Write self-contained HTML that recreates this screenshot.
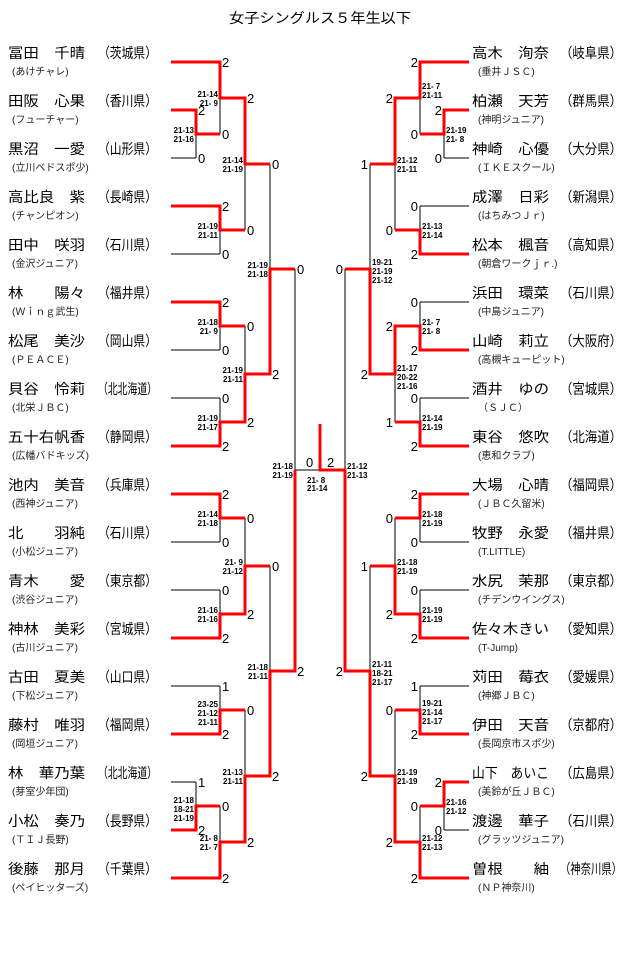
<!DOCTYPE html>
<html><head><meta charset="utf-8"><style>
html,body{margin:0;padding:0;background:#fff;}
svg{display:block;}
.n{font-family:"Liberation Sans","Noto Sans CJK JP",sans-serif;font-size:14px;fill:#000;}
.p{font-family:"Liberation Sans","Noto Sans CJK JP",sans-serif;font-size:14px;fill:#000;}
.c{font-family:"Liberation Sans","Noto Sans CJK JP",sans-serif;font-size:10px;fill:#222;}
.d{font-family:"Liberation Sans",sans-serif;font-size:13px;fill:#000;}
.g{font-family:"Liberation Sans",sans-serif;font-size:8px;fill:#000;font-weight:bold;}
.b{stroke:#000;stroke-width:1;fill:none;}
.r{stroke:#f00;stroke-width:3;fill:none;}
</style></head><body>
<svg width="640" height="957" viewBox="0 0 640 957" xmlns="http://www.w3.org/2000/svg">
<text x="320" y="23" text-anchor="middle" class="n" textLength="182" lengthAdjust="spacingAndGlyphs">女子シングルス５年生以下</text>

<path class="b" d="
M171,62H220M171,110H196M171,158H196M171,206H220M171,254H220M171,302H220M171,350H220M171,398H220M171,446H220
M171,494H220M171,542H220M171,590H220M171,638H220M171,686H220M171,734H220M171,782H196M171,830H196M171,878H220
M196,110V158M196,782V830M196,134H220M196,806H220
M220,62V134M220,206V254M220,302V350M220,398V446M220,494V542M220,590V638M220,686V734M220,806V878
M220,98H245M220,230H245M220,326H245M220,422H245M220,518H245M220,614H245M220,710H245M220,842H245
M245,98V230M245,326V422M245,518V614M245,710V842
M245,164H270M245,374H270M245,566H270M245,776H270
M270,164V374M270,566V776M270,269H295M270,671H295
M295,269V671M295,470H345
M469,62H420M469,110H444M469,158H444M469,206H420M469,254H420M469,302H420M469,350H420M469,398H420M469,446H420
M469,494H420M469,542H420M469,590H420M469,638H420M469,686H420M469,734H420M469,782H444M469,830H444M469,878H420
M444,110V158M444,782V830M444,134H420M444,806H420
M420,62V134M420,206V254M420,302V350M420,398V446M420,494V542M420,590V638M420,686V734M420,806V878
M420,98H395M420,230H395M420,326H395M420,422H395M420,518H395M420,614H395M420,710H395M420,842H395
M395,98V230M395,326V422M395,518V614M395,710V842
M395,164H370M395,374H370M395,566H370M395,776H370
M370,164V374M370,566V776M370,269H345M370,671H345
M345,269V671"/>

<path class="r" d="
M171,62H220V98H245V164H270
M171,110H196V134H220
M171,206H220V230H245
M171,302H220V326H245
M171,446H220V422H245V374H270V269H295
M171,494H220V518H245
M171,638H220V614H245V566H270
M171,734H220V710H245
M171,830H196V806H220
M171,878H220V842H245V776H270V671H295V470
M469,62H420V98H395V164H370
M469,110H444V134H420
M469,254H420V230H395
M469,350H420V326H395V374H370V269H345
M469,446H420V422H395
M469,494H420V518H395
M469,638H420V614H395V566H370
M469,734H420V710H395
M469,782H444V806H420
M469,878H420V842H395V776H370V671H345V470H320V424"/>

<g class="d">
<text x="222" y="67">2</text><text x="222" y="139">0</text><text x="222" y="211">2</text><text x="222" y="259">0</text>
<text x="222" y="307">2</text><text x="222" y="355">0</text><text x="222" y="403">0</text><text x="222" y="451">2</text>
<text x="222" y="499">2</text><text x="222" y="547">0</text><text x="222" y="595">0</text><text x="222" y="643">2</text>
<text x="222" y="691">1</text><text x="222" y="739">2</text><text x="222" y="811">0</text><text x="222" y="883">2</text>
<text x="198" y="115">2</text><text x="198" y="163">0</text><text x="198" y="787">1</text><text x="198" y="835">2</text>
<text x="247" y="103">2</text><text x="247" y="235">0</text><text x="247" y="331">0</text><text x="247" y="427">2</text>
<text x="247" y="523">0</text><text x="247" y="619">2</text><text x="247" y="715">0</text><text x="247" y="847">2</text>
<text x="272" y="169">0</text><text x="272" y="379">2</text><text x="272" y="571">0</text><text x="272" y="781">2</text>
<text x="297" y="274">0</text><text x="297" y="676">2</text>
<text x="306" y="467">0</text><text x="327" y="467">2</text>
</g>
<g class="d" text-anchor="end">
<text x="418" y="67">2</text><text x="418" y="139">0</text><text x="418" y="211">0</text><text x="418" y="259">2</text>
<text x="418" y="307">0</text><text x="418" y="355">2</text><text x="418" y="403">0</text><text x="418" y="451">2</text>
<text x="418" y="499">2</text><text x="418" y="547">0</text><text x="418" y="595">0</text><text x="418" y="643">2</text>
<text x="418" y="691">1</text><text x="418" y="739">2</text><text x="418" y="811">0</text><text x="418" y="883">2</text>
<text x="442" y="115">2</text><text x="442" y="163">0</text><text x="442" y="787">2</text><text x="442" y="835">0</text>
<text x="393" y="103">2</text><text x="393" y="235">0</text><text x="393" y="331">2</text><text x="393" y="427">1</text>
<text x="393" y="523">0</text><text x="393" y="619">2</text><text x="393" y="715">0</text><text x="393" y="847">2</text>
<text x="368" y="169">1</text><text x="368" y="379">2</text><text x="368" y="571">1</text><text x="368" y="781">2</text>
<text x="343" y="274">0</text><text x="343" y="676">2</text>
</g>

<g class="g" text-anchor="end">
<text x="218" y="97">21-14</text><text x="218" y="106">21- 9</text>
<text x="194" y="133">21-13</text><text x="194" y="142">21-16</text>
<text x="243" y="163">21-14</text><text x="243" y="172">21-19</text>
<text x="218" y="229">21-19</text><text x="218" y="238">21-11</text>
<text x="268" y="268">21-19</text><text x="268" y="277">21-18</text>
<text x="218" y="325">21-18</text><text x="218" y="334">21- 9</text>
<text x="243" y="373">21-19</text><text x="243" y="382">21-11</text>
<text x="218" y="421">21-19</text><text x="218" y="430">21-17</text>
<text x="293" y="469">21-18</text><text x="293" y="478">21-19</text>
<text x="218" y="517">21-14</text><text x="218" y="526">21-18</text>
<text x="243" y="565">21- 9</text><text x="243" y="574">21-12</text>
<text x="218" y="613">21-16</text><text x="218" y="622">21-16</text>
<text x="268" y="670">21-18</text><text x="268" y="679">21-11</text>
<text x="218" y="707">23-25</text><text x="218" y="716">21-12</text><text x="218" y="725">21-11</text>
<text x="243" y="775">21-13</text><text x="243" y="784">21-11</text>
<text x="194" y="803">21-18</text><text x="194" y="812">18-21</text><text x="194" y="821">21-19</text>
<text x="218" y="841">21- 8</text><text x="218" y="850">21- 7</text>
</g>
<g class="g">
<text x="307" y="483">21- 8</text><text x="307" y="491">21-14</text>
<text x="422" y="89">21- 7</text><text x="422" y="98">21-11</text>
<text x="446" y="133">21-19</text><text x="446" y="142">21- 8</text>
<text x="397" y="163">21-12</text><text x="397" y="172">21-11</text>
<text x="422" y="229">21-13</text><text x="422" y="238">21-14</text>
<text x="372" y="265">19-21</text><text x="372" y="274">21-19</text><text x="372" y="283">21-12</text>
<text x="422" y="325">21- 7</text><text x="422" y="334">21- 8</text>
<text x="397" y="371">21-17</text><text x="397" y="380">20-22</text><text x="397" y="389">21-16</text>
<text x="422" y="421">21-14</text><text x="422" y="430">21-19</text>
<text x="347" y="469">21-12</text><text x="347" y="478">21-13</text>
<text x="422" y="517">21-18</text><text x="422" y="526">21-19</text>
<text x="397" y="565">21-18</text><text x="397" y="574">21-19</text>
<text x="422" y="613">21-19</text><text x="422" y="622">21-19</text>
<text x="372" y="667">21-11</text><text x="372" y="676">18-21</text><text x="372" y="685">21-17</text>
<text x="422" y="706">19-21</text><text x="422" y="715">21-14</text><text x="422" y="724">21-17</text>
<text x="397" y="775">21-19</text><text x="397" y="784">21-19</text>
<text x="446" y="805">21-16</text><text x="446" y="814">21-12</text>
<text x="422" y="841">21-12</text><text x="422" y="850">21-13</text>
</g>

<g class="n">
<text x="8" y="58" textLength="77" lengthAdjust="spacingAndGlyphs">冨田　千晴</text>
<text x="8" y="106" textLength="77" lengthAdjust="spacingAndGlyphs">田阪　心果</text>
<text x="8" y="154" textLength="77" lengthAdjust="spacingAndGlyphs">黒沼　一愛</text>
<text x="8" y="202" textLength="77" lengthAdjust="spacingAndGlyphs">高比良　紫</text>
<text x="8" y="250" textLength="77" lengthAdjust="spacingAndGlyphs">田中　咲羽</text>
<text x="8" y="298" textLength="77" lengthAdjust="spacingAndGlyphs">林　　陽々</text>
<text x="8" y="346" textLength="77" lengthAdjust="spacingAndGlyphs">松尾　美沙</text>
<text x="8" y="394" textLength="77" lengthAdjust="spacingAndGlyphs">貝谷　怜莉</text>
<text x="8" y="442" textLength="77" lengthAdjust="spacingAndGlyphs">五十右帆香</text>
<text x="8" y="490" textLength="77" lengthAdjust="spacingAndGlyphs">池内　美音</text>
<text x="8" y="538" textLength="77" lengthAdjust="spacingAndGlyphs">北　　羽純</text>
<text x="8" y="586" textLength="77" lengthAdjust="spacingAndGlyphs">青木　　愛</text>
<text x="8" y="634" textLength="77" lengthAdjust="spacingAndGlyphs">神林　美彩</text>
<text x="8" y="682" textLength="77" lengthAdjust="spacingAndGlyphs">古田　夏美</text>
<text x="8" y="730" textLength="77" lengthAdjust="spacingAndGlyphs">藤村　唯羽</text>
<text x="8" y="778" textLength="77" lengthAdjust="spacingAndGlyphs">林　華乃葉</text>
<text x="8" y="826" textLength="77" lengthAdjust="spacingAndGlyphs">小松　奏乃</text>
<text x="8" y="874" textLength="77" lengthAdjust="spacingAndGlyphs">後藤　那月</text>
</g>
<g class="p">
<text x="98" y="58" textLength="59" lengthAdjust="spacingAndGlyphs">（茨城県）</text>
<text x="98" y="106" textLength="59" lengthAdjust="spacingAndGlyphs">（香川県）</text>
<text x="98" y="154" textLength="59" lengthAdjust="spacingAndGlyphs">（山形県）</text>
<text x="98" y="202" textLength="59" lengthAdjust="spacingAndGlyphs">（長崎県）</text>
<text x="98" y="250" textLength="59" lengthAdjust="spacingAndGlyphs">（石川県）</text>
<text x="98" y="298" textLength="59" lengthAdjust="spacingAndGlyphs">（福井県）</text>
<text x="98" y="346" textLength="59" lengthAdjust="spacingAndGlyphs">（岡山県）</text>
<text x="98" y="394" textLength="59" lengthAdjust="spacingAndGlyphs">（北北海道）</text>
<text x="98" y="442" textLength="59" lengthAdjust="spacingAndGlyphs">（静岡県）</text>
<text x="98" y="490" textLength="59" lengthAdjust="spacingAndGlyphs">（兵庫県）</text>
<text x="98" y="538" textLength="59" lengthAdjust="spacingAndGlyphs">（石川県）</text>
<text x="98" y="586" textLength="59" lengthAdjust="spacingAndGlyphs">（東京都）</text>
<text x="98" y="634" textLength="59" lengthAdjust="spacingAndGlyphs">（宮城県）</text>
<text x="98" y="682" textLength="59" lengthAdjust="spacingAndGlyphs">（山口県）</text>
<text x="98" y="730" textLength="59" lengthAdjust="spacingAndGlyphs">（福岡県）</text>
<text x="98" y="778" textLength="59" lengthAdjust="spacingAndGlyphs">（北北海道）</text>
<text x="98" y="826" textLength="59" lengthAdjust="spacingAndGlyphs">（長野県）</text>
<text x="98" y="874" textLength="59" lengthAdjust="spacingAndGlyphs">（千葉県）</text>
</g>
<g class="c">
<text x="12" y="75">(あけチャレ)</text><text x="12" y="123">(フューチャー)</text><text x="12" y="171">(立川ベドスポ少)</text>
<text x="12" y="219">(チャンピオン)</text><text x="12" y="267">(金沢ジュニア)</text><text x="12" y="315">(Ｗｉｎｇ武生)</text>
<text x="12" y="363">(ＰＥＡＣＥ)</text><text x="12" y="411">(北栄ＪＢＣ)</text><text x="12" y="459">(広幡バドキッズ)</text>
<text x="12" y="507">(西神ジュニア)</text><text x="12" y="555">(小松ジュニア)</text><text x="12" y="603">(渋谷ジュニア)</text>
<text x="12" y="651">(古川ジュニア)</text><text x="12" y="699">(下松ジュニア)</text><text x="12" y="747">(岡垣ジュニア)</text>
<text x="12" y="795">(芽室少年団)</text><text x="12" y="843">(ＴＩＪ長野)</text><text x="12" y="891">(ペイヒッターズ)</text>
</g>

<g class="n">
<text x="472" y="58" textLength="77" lengthAdjust="spacingAndGlyphs">高木　洵奈</text>
<text x="472" y="106" textLength="77" lengthAdjust="spacingAndGlyphs">柏瀬　天芳</text>
<text x="472" y="154" textLength="77" lengthAdjust="spacingAndGlyphs">神崎　心優</text>
<text x="472" y="202" textLength="77" lengthAdjust="spacingAndGlyphs">成澤　日彩</text>
<text x="472" y="250" textLength="77" lengthAdjust="spacingAndGlyphs">松本　楓音</text>
<text x="472" y="298" textLength="77" lengthAdjust="spacingAndGlyphs">浜田　環菜</text>
<text x="472" y="346" textLength="77" lengthAdjust="spacingAndGlyphs">山崎　莉立</text>
<text x="472" y="394" textLength="77" lengthAdjust="spacingAndGlyphs">酒井　ゆの</text>
<text x="472" y="442" textLength="77" lengthAdjust="spacingAndGlyphs">東谷　悠吹</text>
<text x="472" y="490" textLength="77" lengthAdjust="spacingAndGlyphs">大場　心晴</text>
<text x="472" y="538" textLength="77" lengthAdjust="spacingAndGlyphs">牧野　永愛</text>
<text x="472" y="586" textLength="77" lengthAdjust="spacingAndGlyphs">水尻　茉那</text>
<text x="472" y="634" textLength="77" lengthAdjust="spacingAndGlyphs">佐々木きい</text>
<text x="472" y="682" textLength="77" lengthAdjust="spacingAndGlyphs">苅田　莓衣</text>
<text x="472" y="730" textLength="77" lengthAdjust="spacingAndGlyphs">伊田　天音</text>
<text x="472" y="778" textLength="77" lengthAdjust="spacingAndGlyphs">山下　あいこ</text>
<text x="472" y="826" textLength="77" lengthAdjust="spacingAndGlyphs">渡邊　華子</text>
<text x="472" y="874" textLength="77" lengthAdjust="spacingAndGlyphs">曽根　　紬</text>
</g>
<g class="p">
<text x="560" y="58" textLength="62" lengthAdjust="spacingAndGlyphs">（岐阜県）</text>
<text x="560" y="106" textLength="62" lengthAdjust="spacingAndGlyphs">（群馬県）</text>
<text x="560" y="154" textLength="62" lengthAdjust="spacingAndGlyphs">（大分県）</text>
<text x="560" y="202" textLength="62" lengthAdjust="spacingAndGlyphs">（新潟県）</text>
<text x="560" y="250" textLength="62" lengthAdjust="spacingAndGlyphs">（高知県）</text>
<text x="560" y="298" textLength="62" lengthAdjust="spacingAndGlyphs">（石川県）</text>
<text x="560" y="346" textLength="62" lengthAdjust="spacingAndGlyphs">（大阪府）</text>
<text x="560" y="394" textLength="62" lengthAdjust="spacingAndGlyphs">（宮城県）</text>
<text x="560" y="442" textLength="62" lengthAdjust="spacingAndGlyphs">（北海道）</text>
<text x="560" y="490" textLength="62" lengthAdjust="spacingAndGlyphs">（福岡県）</text>
<text x="560" y="538" textLength="62" lengthAdjust="spacingAndGlyphs">（福井県）</text>
<text x="560" y="586" textLength="62" lengthAdjust="spacingAndGlyphs">（東京都）</text>
<text x="560" y="634" textLength="62" lengthAdjust="spacingAndGlyphs">（愛知県）</text>
<text x="560" y="682" textLength="62" lengthAdjust="spacingAndGlyphs">（愛媛県）</text>
<text x="560" y="730" textLength="62" lengthAdjust="spacingAndGlyphs">（京都府）</text>
<text x="560" y="778" textLength="62" lengthAdjust="spacingAndGlyphs">（広島県）</text>
<text x="560" y="826" textLength="62" lengthAdjust="spacingAndGlyphs">（石川県）</text>
<text x="560" y="874" textLength="62" lengthAdjust="spacingAndGlyphs">（神奈川県）</text>
</g>
<g class="c">
<text x="478" y="75">(垂井ＪＳＣ)</text><text x="478" y="123">(神明ジュニア)</text><text x="478" y="171">(ＩＫＥスクール)</text>
<text x="478" y="219">(はちみつＪｒ)</text><text x="478" y="267">(朝倉ワークｊｒ.)</text><text x="478" y="315">(中島ジュニア)</text>
<text x="478" y="363">(高槻キューピット)</text><text x="478" y="411">（ＳＪＣ）</text><text x="478" y="459">(恵和クラブ)</text>
<text x="478" y="507">(ＪＢＣ久留米)</text><text x="478" y="555">(T.LITTLE)</text><text x="478" y="603">(チデンウイングス)</text>
<text x="478" y="651">(T-Jump)</text><text x="478" y="699">(神郷ＪＢＣ)</text><text x="478" y="747">(長岡京市スポ少)</text>
<text x="478" y="795">(美鈴が丘ＪＢＣ)</text><text x="478" y="843">(グラッツジュニア)</text><text x="478" y="891">(ＮＰ神奈川)</text>
</g>
</svg>
</body></html>
